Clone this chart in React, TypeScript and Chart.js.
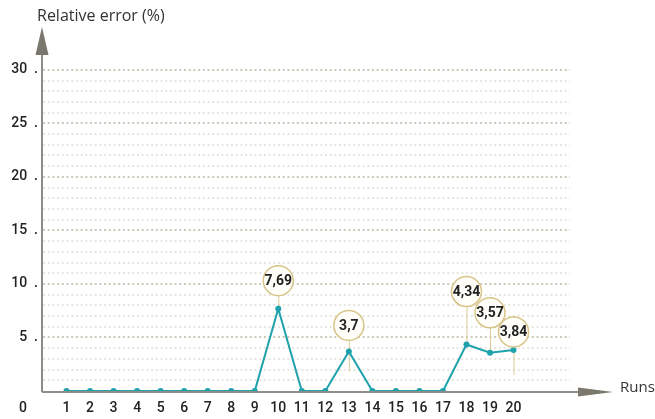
import React, { useEffect, useRef } from 'react';
import { Chart, registerables } from 'chart.js';

Chart.register(...registerables);

const runs = [1, 2, 3, 4, 5, 6, 7, 8, 9, 10, 11, 12, 13, 14, 15, 16, 17, 18, 19, 20];
const relativeError = [0, 0, 0, 0, 0, 0, 0, 0, 0, 7.69, 0, 0, 3.7, 0, 0, 0, 0, 4.34, 3.57, 3.84];
const yLabelValues = [5, 10, 15, 20, 25, 30];
const calloutRuns = [10, 13, 18, 19, 20];
const calloutLabels = ['7,69', '3,7', '4,34', '3,57', '3,84'];
// styling for the callout pins (pixel lift above the point, tail below it)
const calloutLift = [28, 26, 53, 40, 18];
const calloutTail = [0, 20, 0, 0, 25];

const FONT = "'Open Sans', 'Noto Sans', sans-serif";
const TICKFONT = "Roboto, 'Open Sans', sans-serif";
const LINE = '#1fa2ab';

const decorPlugin = {
  id: 'decor',
  beforeDatasetsDraw(chart: any) {
    const { ctx, chartArea, scales } = chart;
    const xs = scales.x;
    const ys = scales.y;
    const ax = chartArea.left - 1;
    const ay = chartArea.bottom + 1;
    ctx.save();
    // leader lines
    ctx.strokeStyle = '#dccb97';
    ctx.lineWidth = 1;
    calloutRuns.forEach((r, i) => {
      const v = relativeError[runs.indexOf(r)];
      const px = xs.getPixelForValue(r);
      const py = ys.getPixelForValue(v);
      ctx.beginPath();
      ctx.moveTo(px + 0.5, py - calloutLift[i] + 15);
      ctx.lineTo(px + 0.5, py + calloutTail[i]);
      ctx.stroke();
    });
    // axes
    ctx.strokeStyle = '#8e8d88';
    ctx.lineWidth = 2;
    ctx.beginPath();
    ctx.moveTo(ax, ay);
    ctx.lineTo(ax, chartArea.top + 26);
    ctx.moveTo(ax, ay);
    ctx.lineTo(chartArea.right + 10, ay);
    ctx.stroke();
    ctx.fillStyle = '#7a776d';
    ctx.beginPath();
    ctx.moveTo(ax, chartArea.top);
    ctx.lineTo(ax - 6.5, chartArea.top + 28);
    ctx.lineTo(ax + 6.5, chartArea.top + 28);
    ctx.closePath();
    ctx.fill();
    ctx.beginPath();
    ctx.moveTo(chartArea.right + 43, ay);
    ctx.lineTo(chartArea.right + 8, ay - 4.5);
    ctx.lineTo(chartArea.right + 8, ay + 4.5);
    ctx.closePath();
    ctx.fill();
    // texts
    ctx.fillStyle = '#333';
    ctx.font = `16px ${FONT}`;
    ctx.textBaseline = 'middle';
    ctx.textAlign = 'left';
    ctx.fillText('Relative error (%)', 37, 16);
    ctx.font = `15px ${FONT}`;
    ctx.fillText('Runs', chartArea.right + 50, ay - 4);
    ctx.fillStyle = '#222';
    ctx.font = `500 14px ${TICKFONT}`;
    ctx.textAlign = 'right';
    ctx.fillText('0', 27, chartArea.bottom + 17);
    ctx.restore();
  },
  afterDatasetsDraw(chart: any) {
    const { ctx, scales } = chart;
    const xs = scales.x;
    const ys = scales.y;
    ctx.save();
    calloutRuns.forEach((r, i) => {
      const v = relativeError[runs.indexOf(r)];
      const px = xs.getPixelForValue(r);
      const cy = ys.getPixelForValue(v) - calloutLift[i];
      ctx.beginPath();
      ctx.arc(px, cy, 15, 0, Math.PI * 2);
      ctx.fillStyle = '#fffef8';
      ctx.fill();
      ctx.strokeStyle = '#d8c488';
      ctx.lineWidth = 1.5;
      ctx.stroke();
      ctx.fillStyle = '#222';
      ctx.font = `bold 14px ${TICKFONT}`;
      ctx.textAlign = 'center';
      ctx.textBaseline = 'middle';
      ctx.fillText(calloutLabels[i], px, cy + 1);
    });
    ctx.restore();
  },
};

export default function App() {
  const ref = useRef<HTMLCanvasElement | null>(null);
  useEffect(() => {
    if (!ref.current) return;
    const chart = new Chart(ref.current, {
      type: 'line',
      data: {
        datasets: [
          {
            data: runs.map((r, i) => ({ x: r, y: relativeError[i] })),
            borderColor: LINE,
            backgroundColor: LINE,
            borderWidth: 2,
            pointRadius: 3,
            pointBorderWidth: 0,
            pointBackgroundColor: LINE,
            tension: 0,
          },
        ],
      },
      options: {
        animation: false,
        responsive: true,
        maintainAspectRatio: false,
        layout: { padding: { top: 27, right: 85, left: 0, bottom: 0 } },
        plugins: { legend: { display: false }, tooltip: { enabled: false }, title: { display: false } },
        scales: {
          x: {
            type: 'linear',
            min: 0,
            max: 22.4,
            afterBuildTicks: (s: any) => {
              s.ticks = runs.map((v) => ({ value: v }));
            },
            afterFit: (s: any) => {
              s.height = 28;
            },
            grid: { display: false, drawTicks: false },
            border: { display: false },
            ticks: {
              autoSkip: false,
              maxRotation: 0,
              padding: 9,
              color: '#222',
              font: { family: TICKFONT, size: 14, weight: '500' },
              callback: (v: any) => String(v),
            },
          },
          y: {
            min: 0,
            max: 34,
            afterBuildTicks: (s: any) => {
              const t = [];
              for (let v = 0; v <= 30; v++) t.push({ value: v });
              s.ticks = t;
            },
            afterFit: (s: any) => {
              s.width = 43;
            },
            grid: {
              drawTicks: false,
              lineWidth: 2,
              color: (c: any) => {
                const v = c.tick ? c.tick.value : 0;
                if (v === 0) return 'rgba(0,0,0,0)';
                return v % 5 === 0 ? '#cdc8b9' : '#e7e5df';
              },
            },
            border: { display: false, dash: [2, 2.7] },
            ticks: {
              autoSkip: false,
              padding: 5,
              color: '#222',
              font: { family: TICKFONT, size: 14, weight: '500' },
              callback: (v: any) => (yLabelValues.includes(v) ? `${v}  .` : ''),
            },
          },
        },
      },
      plugins: [decorPlugin],
    });
    return () => chart.destroy();
  }, []);
  return (
    <div style={{ position: 'fixed', left: 0, top: 0, width: 655, height: 419, background: '#fff' }}>
      <canvas ref={ref} />
    </div>
  );
}
